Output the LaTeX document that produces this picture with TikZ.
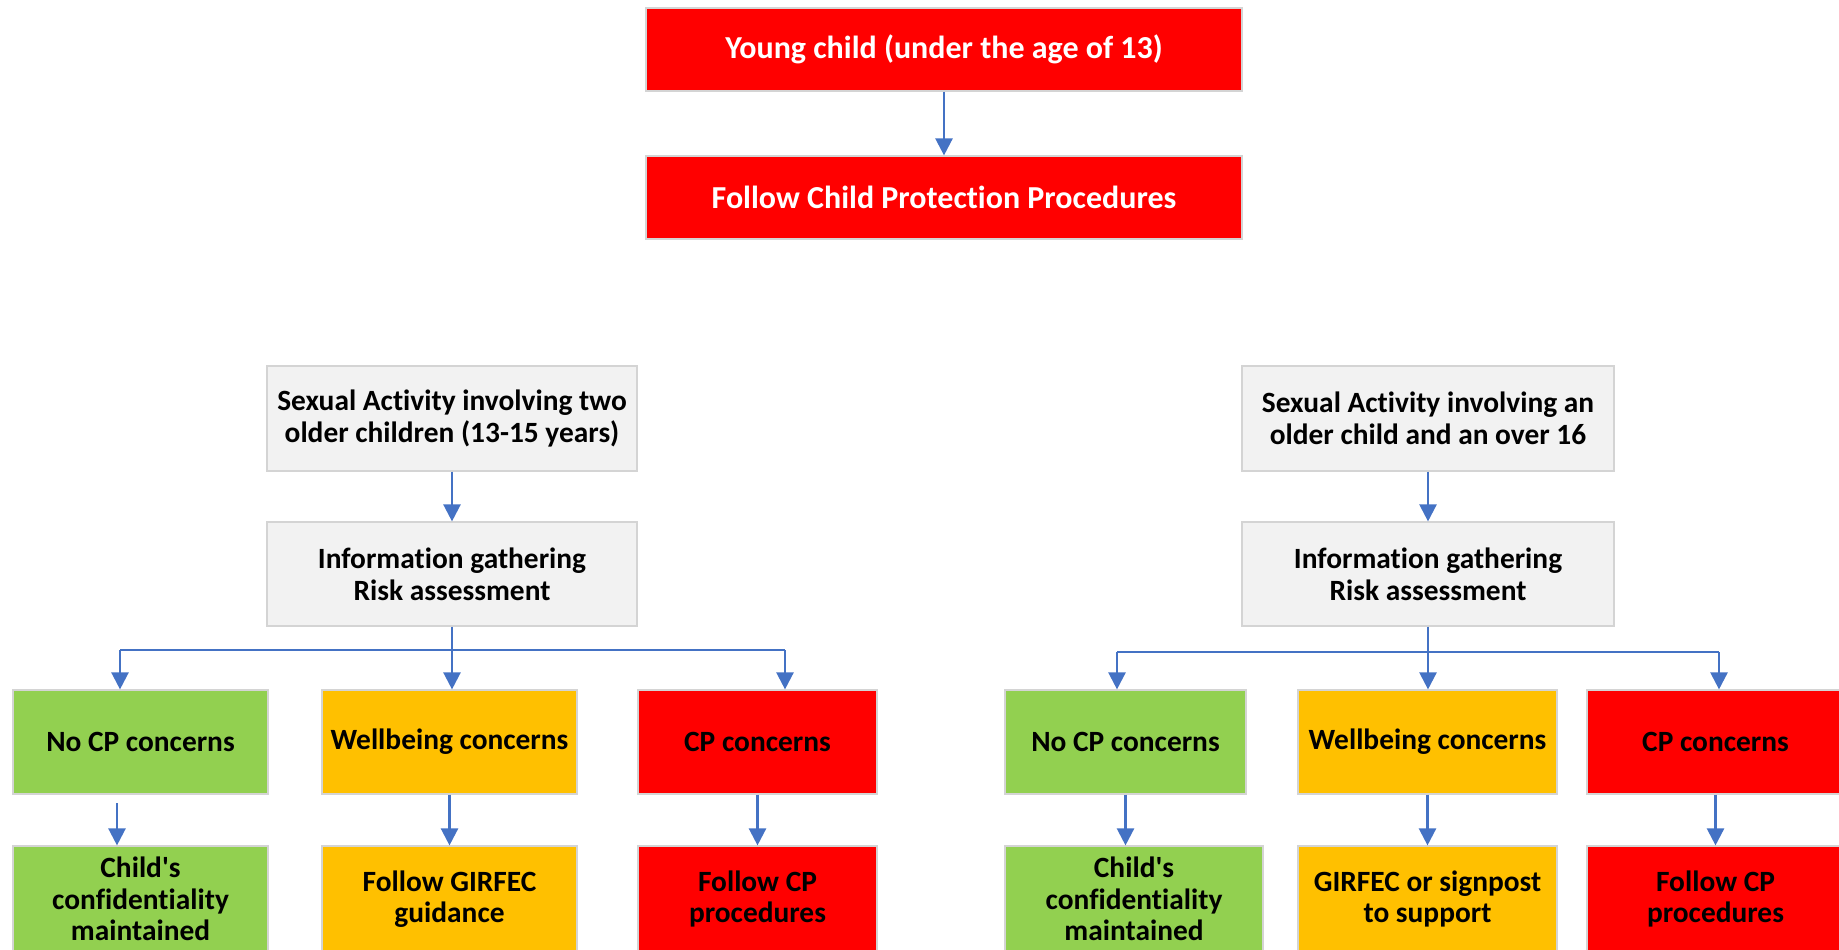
\documentclass[tikz,border=0pt]{standalone}
\usepackage{fontspec}
\setmainfont{Carlito}[Ligatures=NoCommon]
\usetikzlibrary{arrows.meta,calc}
\definecolor{cpred}{HTML}{FF0000}
\definecolor{okgreen}{HTML}{92D050}
\definecolor{wbamber}{HTML}{FFC000}
\definecolor{infogray}{HTML}{F2F2F2}
\definecolor{edgegray}{HTML}{D4D4D4}
\definecolor{linkblue}{HTML}{4472C4}
\tikzset{
  card/.style={draw=edgegray, line width=0.6pt, align=center, inner sep=2pt,
    font=\bfseries\fontsize{14.7}{15.8}\selectfont},
  redcard/.style={card, fill=cpred, text=white, font=\bfseries\fontsize{16}{17}\selectfont},
  infocard/.style={card, fill=infogray},
  nocard/.style={card, fill=okgreen},
  wellcard/.style={card, fill=wbamber},
  cpcard/.style={card, fill=cpred},
  link/.style={linkblue, line width=1.2pt},
  arr/.style={link, -{Triangle[length=8.5pt,width=8.5pt]}},
}
% box from its corners: style, name, x1, y1, x2, y2, text
\newcommand{\flowbox}[7]{\node[#1, minimum width={(#5-#3)*0.5pt}, minimum height={(#6-#4)*0.5pt}] (#2) at ({(#3+#5)/2},{(#4+#6)/2}) {#7};}
\newcommand{\flowarrow}[2]{\draw[arr] (#1) -- (#2);}
\begin{document}
\begin{tikzpicture}[x=0.5pt,y=-0.5pt]
    \useasboundingbox (0,0) rectangle (1839,949);
    % under 13
    \flowbox{redcard}{young}{646}{8}{1242}{91}{Young child (under the age of 13)}
    \flowbox{redcard}{cpproc}{646}{156}{1242}{239}{Follow Child Protection Procedures}
    \flowarrow{young}{cpproc}
    % left column
    \flowbox{infocard}{lact}{267}{366}{637}{471}{Sexual Activity involving two\\older children (13-15 years)}
    \flowbox{infocard}{linfo}{267}{522}{637}{626}{Information gathering\\Risk assessment}
    \flowarrow{lact}{linfo}
    % left row1
    \flowbox{nocard}{lno}{13}{690}{268}{794}{No CP concerns}
    \flowbox{wellcard}{lwell}{322}{690}{577}{794}{Wellbeing concerns}
    \flowbox{cpcard}{lcp}{638}{690}{877}{794}{CP concerns}
    % left row2
    \flowbox{nocard}{lnoact}{13}{846}{268}{952}{Child\textquotesingle s\\confidentiality\\maintained}
    \flowbox{wellcard}{lwellact}{322}{846}{577}{952}{Follow GIRFEC\\guidance}
    \flowbox{cpcard}{lcpact}{638}{846}{877}{952}{Follow CP\\procedures}
    % left branches
    \coordinate (lbusw) at (120,650);
    \coordinate (lbuse) at (785,650);
    \draw[link] (linfo) -- (linfo |- lbusw);
    \draw[link] (lbusw) -- (lbuse);
    \draw[arr] (lbusw) -- (lbusw |- lno.north);
    \draw[arr] (linfo |- lbusw) -- (linfo |- lwell.north);
    \draw[arr] (lbuse) -- (lbuse |- lcp.north);
    \coordinate (lgap) at (117,803);
    \draw[arr] (lgap) -- (lgap |- lnoact.north);
    \flowarrow{lwell}{lwellact}
    \flowarrow{lcp}{lcpact}
    % right column
    \flowbox{infocard}{ract}{1242}{366}{1614}{471}{Sexual Activity involving an\\older child and an over 16}
    \flowbox{infocard}{rinfo}{1242}{522}{1614}{626}{Information gathering\\Risk assessment}
    \flowarrow{ract}{rinfo}
    % right row1
    \flowbox{nocard}{rno}{1005}{690}{1246}{794}{No CP concerns}
    \flowbox{wellcard}{rwell}{1298}{690}{1557}{794}{Wellbeing concerns}
    \flowbox{cpcard}{rcp}{1587}{690}{1844}{794}{CP concerns}
    % right row2
    \flowbox{nocard}{rnoact}{1005}{846}{1263}{952}{Child\textquotesingle s\\confidentiality\\maintained}
    \flowbox{wellcard}{rwellact}{1298}{846}{1557}{952}{GIRFEC or signpost\\to support}
    \flowbox{cpcard}{rcpact}{1587}{846}{1844}{952}{Follow CP\\procedures}
    % right branches
    \coordinate (rbusw) at (1117,652);
    \coordinate (rbuse) at (1719,652);
    \draw[link] (rinfo) -- (rinfo |- rbusw);
    \draw[link] (rbusw) -- (rbuse);
    \draw[arr] (rbusw) -- (rbusw |- rno.north);
    \draw[arr] (rinfo |- rbusw) -- (rinfo |- rwell.north);
    \draw[arr] (rbuse) -- (rbuse |- rcp.north);
    \draw[arr] (rno.south) -- (rno.south |- rnoact.north);
    \flowarrow{rwell}{rwellact}
    \flowarrow{rcp}{rcpact}
\end{tikzpicture}
\end{document}
